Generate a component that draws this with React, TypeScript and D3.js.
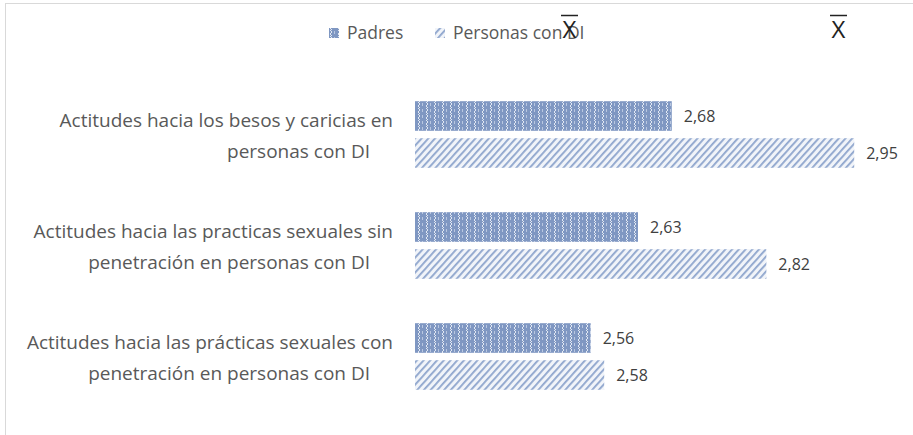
import React, { useRef, useEffect } from 'react';
import * as d3 from 'd3';

// chart data
const categories = [
  ['Actitudes hacia los besos y caricias en', 'personas con DI'],
  ['Actitudes hacia las practicas sexuales sin', 'penetración en personas con DI'],
  ['Actitudes hacia las prácticas sexuales con', 'penetración en personas con DI'],
];
const seriesNames = ['Padres', 'Personas con DI'];
const padres = [2.68, 2.63, 2.56];
const personasDI = [2.95, 2.82, 2.58];
const xDomain = [2.3, 3.0];

const WIDTH = 913;
const HEIGHT = 435;
const FONT = '"Open Sans", Lato, sans-serif';
const TEXT = '#595959';

const App: React.FC = () => {
  const svgRef = useRef<SVGSVGElement>(null);

  useEffect(() => {
    if (!svgRef.current) return;
    document.body.style.margin = '0';

    const svg = d3.select(svgRef.current);
    svg.selectAll('*').remove();
    svg.attr('width', WIDTH).attr('height', HEIGHT);

    // patterns
    const defs = svg.append('defs');
    const weave = defs
      .append('pattern')
      .attr('id', 'pat-padres')
      .attr('patternUnits', 'userSpaceOnUse')
      .attr('width', 8)
      .attr('height', 6);
    weave.append('rect').attr('width', 8).attr('height', 6).attr('fill', '#7f97c2');
    weave
      .append('path')
      .attr('d', 'M2,0 L4,2 L2,4 L4,6')
      .attr('fill', 'none')
      .attr('stroke', '#e2e8f2')
      .attr('stroke-width', 1);
    weave
      .append('rect')
      .attr('x', 6)
      .attr('y', 1)
      .attr('width', 1)
      .attr('height', 3)
      .attr('fill', '#b8c6e0');

    const stripes = defs
      .append('pattern')
      .attr('id', 'pat-personas')
      .attr('patternUnits', 'userSpaceOnUse')
      .attr('width', 5)
      .attr('height', 5)
      .attr('patternTransform', 'rotate(42)');
    stripes.append('rect').attr('width', 5).attr('height', 5).attr('fill', '#f1f4f9');
    stripes
      .append('rect')
      .attr('x', 0)
      .attr('y', 0)
      .attr('width', 1.8)
      .attr('height', 5)
      .attr('fill', '#8ea5cd');

    // chart border
    svg
      .append('rect')
      .attr('x', 5.5)
      .attr('y', 3.5)
      .attr('width', WIDTH)
      .attr('height', HEIGHT)
      .attr('fill', 'none')
      .attr('stroke', '#d9d9d9')
      .attr('stroke-width', 1);

    // scales
    const x = d3.scaleLinear().domain(xDomain).range([415, 888]);
    const y = d3
      .scaleBand<number>()
      .domain(d3.range(categories.length))
      .range([79, 412])
      .paddingInner(0.4)
      .paddingOuter(0.2);
    const ySub = d3
      .scaleBand<number>()
      .domain([0, 1])
      .range([0, y.bandwidth()])
      .paddingInner(0.2);

    const fmt = (v: number) => d3.format('.2f')(v).replace('.', ',');
    const series = [
      { name: seriesNames[0], values: padres, fill: 'url(#pat-padres)' },
      { name: seriesNames[1], values: personasDI, fill: 'url(#pat-personas)' },
    ];

    const g = svg.append('g');
    series.forEach((s, si) => {
      g.selectAll(`.bar-${si}`)
        .data(s.values)
        .enter()
        .append('rect')
        .attr('class', `bar-${si}`)
        .attr('x', x(xDomain[0]))
        .attr('y', (_, i) => (y(i) as number) + (ySub(si) as number))
        .attr('width', (d) => x(d) - x(xDomain[0]))
        .attr('height', ySub.bandwidth())
        .attr('fill', s.fill);

      g.selectAll(`.lbl-${si}`)
        .data(s.values)
        .enter()
        .append('text')
        .attr('class', `lbl-${si}`)
        .attr('x', (d) => x(d) + 12)
        .attr('y', (_, i) => (y(i) as number) + (ySub(si) as number) + ySub.bandwidth() / 2)
        .attr('dy', '0.35em')
        .attr('font-family', FONT)
        .attr('font-size', 16)
        .attr('fill', '#404040')
        .text((d) => fmt(d));
    });

    // category labels
    categories.forEach((lines, i) => {
      const cy = (y(i) as number) + y.bandwidth() / 2;
      g.append('text')
        .attr('x', 393)
        .attr('y', cy - 14)
        .attr('dy', '0.35em')
        .attr('text-anchor', 'end')
        .attr('font-family', FONT)
        .attr('font-size', 19)
        .attr('fill', TEXT)
        .text(lines[0]);
      g.append('text')
        .attr('x', 370)
        .attr('y', cy + 17)
        .attr('dy', '0.35em')
        .attr('text-anchor', 'end')
        .attr('font-family', FONT)
        .attr('font-size', 19)
        .attr('fill', TEXT)
        .text(lines[1]);
    });

    // legend
    const legendItems = [
      { name: seriesNames[0], fill: 'url(#pat-padres)', x: 329 },
      { name: seriesNames[1], fill: 'url(#pat-personas)', x: 435 },
    ];
    const legend = svg.append('g');
    legendItems.forEach((it) => {
      legend
        .append('rect')
        .attr('x', it.x)
        .attr('y', 28)
        .attr('width', 10)
        .attr('height', 10)
        .attr('fill', it.fill);
      legend
        .append('text')
        .attr('x', it.x + 18)
        .attr('y', 33)
        .attr('dy', '0.35em')
        .attr('font-family', FONT)
        .attr('font-size', 17.5)
        .attr('fill', TEXT)
        .text(it.name);
    });

    // X-bar symbols
    [569.5, 838.5].forEach((cx) => {
      svg
        .append('line')
        .attr('x1', cx - 8.5)
        .attr('x2', cx + 8.5)
        .attr('y1', 15.5)
        .attr('y2', 15.5)
        .attr('stroke', '#222')
        .attr('stroke-width', 1.5);
      svg
        .append('text')
        .attr('x', cx)
        .attr('y', 38)
        .attr('text-anchor', 'middle')
        .attr('font-family', FONT)
        .attr('font-size', 24)
        .attr('fill', '#222')
        .text('X');
    });
  }, []);

  return (
    <div>
      <svg ref={svgRef}></svg>
    </div>
  );
};

export default App;
